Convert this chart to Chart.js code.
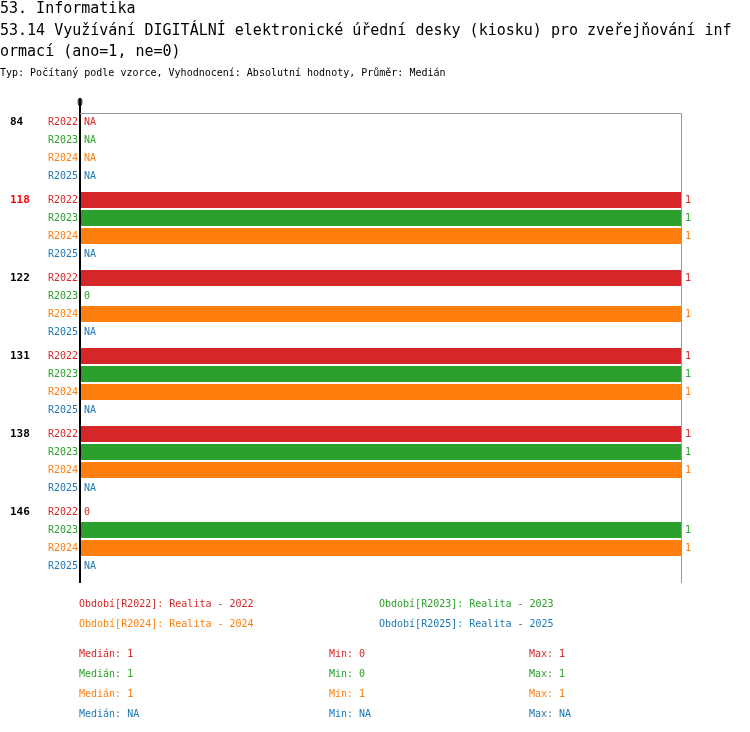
<!DOCTYPE html>
<html><head><meta charset="utf-8">
<script src="https://cdn.jsdelivr.net/npm/chart.js@4"></script>
<style>html,body{margin:0;padding:0;background:#fff}#w{width:750px;height:732px;position:relative}</style>
</head><body><div id="w"><canvas id="c"></canvas></div>
<script>
const groups = ['84','118','122','131','138','146'];
const seriesNames = ['R2022','R2023','R2024','R2025'];
const seriesLegend = ['Období[R2022]: Realita - 2022','Období[R2023]: Realita - 2023','Období[R2024]: Realita - 2024','Období[R2025]: Realita - 2025'];
const colors = ['#d62728','#2ca02c','#ff7f0e','#1f77b4'];
const r2022 = [null, 1, 1, 1, 1, 0];
const r2023 = [null, 1, 0, 1, 1, 1];
const r2024 = [null, 1, 1, 1, 1, 1];
const r2025 = [null, null, null, null, null, null];
const medians = ['1','1','1','NA'];
const mins = ['0','0','1','NA'];
const maxs = ['1','1','1','NA'];
const highlightGroup = '118';
const titleLines = ['53. Informatika','53.14 Využívání DIGITÁLNÍ elektronické úřední desky (kiosku) pro zveřejňování inf','ormací (ano=1, ne=0)'];
const subTitle = 'Typ: Počítaný podle vzorce, Vyhodnocení: Absolutní hodnoty, Průměr: Medián';
const allSeries = [r2022, r2023, r2024, r2025];
const MONO = '"DejaVu Sans Mono", monospace';

const deco = {
  id: 'deco',
  afterDatasetsDraw(chart) {
    const ctx = chart.ctx, a = chart.chartArea, xs = chart.scales.x;
    ctx.save();
    ctx.textBaseline = 'middle';
    // titles
    ctx.fillStyle = '#000';
    ctx.font = '15px ' + MONO;
    ctx.textAlign = 'left';
    ctx.fillText(titleLines[0], 0, 9);
    ctx.fillText(titleLines[1], 0, 31);
    ctx.fillText(titleLines[2], 0, 52);
    ctx.font = '10px ' + MONO;
    ctx.fillText(subTitle, 0, 73);
    // axes
    const x0 = xs.getPixelForValue(0), x1 = xs.getPixelForValue(1);
    ctx.strokeStyle = '#000'; ctx.lineWidth = 2;
    ctx.beginPath(); ctx.moveTo(x0, 98); ctx.lineTo(x0, a.bottom + 5); ctx.stroke();
    ctx.strokeStyle = '#999'; ctx.lineWidth = 1;
    ctx.beginPath(); ctx.moveTo(x0, 113.5); ctx.lineTo(x1 + 0.5, 113.5); ctx.lineTo(x1 + 0.5, a.bottom + 5); ctx.stroke();
    ctx.fillStyle = '#000'; ctx.font = '10px ' + MONO; ctx.textAlign = 'center';
    ctx.fillText('0', x0, 103);
    // rows
    chart.data.datasets.forEach((ds, di) => {
      const meta = chart.getDatasetMeta(di);
      meta.data.forEach((bar, gi) => {
        const y = bar.y, v = ds.data[gi];
        ctx.fillStyle = colors[di]; ctx.font = '10px ' + MONO;
        ctx.textAlign = 'right';
        ctx.fillText(seriesNames[di], 78, y);
        ctx.textAlign = 'left';
        if (v === null) ctx.fillText('NA', 84, y);
        else ctx.fillText(String(v), xs.getPixelForValue(v) + 4, y);
        if (di === 0) {
          ctx.font = 'bold 11px ' + MONO;
          ctx.fillStyle = groups[gi] === highlightGroup ? '#ff0000' : '#000';
          ctx.textAlign = 'left';
          ctx.fillText(groups[gi], 10, y);
        }
      });
    });
    // legend
    ctx.font = '10px ' + MONO; ctx.textAlign = 'left';
    seriesLegend.forEach((t, i) => {
      ctx.fillStyle = colors[i];
      ctx.fillText(t, i % 2 ? 379 : 79, 604 + Math.floor(i / 2) * 20);
    });
    for (let i = 0; i < 4; i++) {
      ctx.fillStyle = colors[i];
      const y = 654 + i * 20;
      ctx.fillText('Medián: ' + medians[i], 79, y);
      ctx.fillText('Min: ' + mins[i], 329, y);
      ctx.fillText('Max: ' + maxs[i], 529, y);
    }
    ctx.restore();
  }
};

new Chart(document.getElementById('c'), {
  type: 'bar',
  data: {
    labels: groups,
    datasets: allSeries.map((d, i) => ({ label: seriesNames[i], data: d, backgroundColor: colors[i], borderWidth: 0 }))
  },
  options: {
    indexAxis: 'y', responsive: true, maintainAspectRatio: false, animation: false,
    layout: { padding: { left: 80, right: 69, top: 110, bottom: 154 } },
    categoryPercentage: 72 / 78, barPercentage: 16 / 18,
    scales: {
      x: { display: false, min: 0, max: 1 },
      y: { display: false }
    },
    plugins: { legend: { display: false }, tooltip: { enabled: false } }
  },
  plugins: [deco]
});
</script></body></html>
